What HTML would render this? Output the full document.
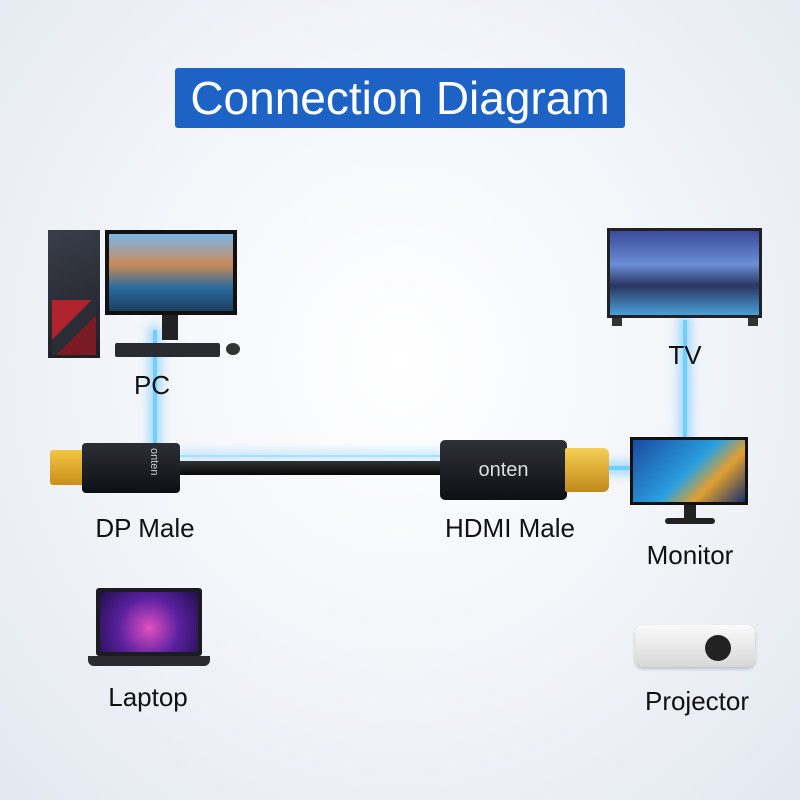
<!DOCTYPE html>
<html><head><meta charset="utf-8"><style>
html,body{margin:0;padding:0}
body{width:800px;height:800px;position:relative;overflow:hidden;font-family:"Liberation Sans",sans-serif;
background:radial-gradient(ellipse at 50% 45%,#ffffff 0%,#f4f6fa 45%,#e3e8f0 100%);}
.a{position:absolute}
.lbl{position:absolute;font-size:26px;color:#111;transform:translateX(-50%);white-space:nowrap}
.glow{position:absolute;background:#6fd0ff;box-shadow:0 0 10px 4px rgba(90,190,255,.55)}
</style></head><body>
<div class="a" style="left:175px;top:68px;width:450px;height:60px;background:#1d63c6;border-radius:3px;color:#fff;font-size:46px;text-align:center;line-height:60px">Connection Diagram</div>

<div class="glow" style="left:153px;top:330px;width:4px;height:115px"></div>
<div class="glow" style="left:683px;top:320px;width:4px;height:120px"></div>
<div class="glow" style="left:605px;top:466px;width:30px;height:4px"></div>
<div class="glow" style="left:180px;top:455px;width:260px;height:2px;opacity:.6"></div>

<div class="a" style="left:48px;top:230px;width:52px;height:128px;background:linear-gradient(160deg,#3a3e48,#1c1f26);"></div>
<div class="a" style="left:52px;top:300px;width:44px;height:55px;background:linear-gradient(135deg,#b0222c 0 40%,#2a2d36 40% 60%,#7a1a22 60%)"></div>
<div class="a" style="left:105px;top:230px;width:132px;height:85px;background:#111;"></div>
<div class="a" style="left:109px;top:234px;width:124px;height:77px;background:linear-gradient(180deg,#7ab6e8 0%,#c98a5a 40%,#2a6aa0 70%,#1c3e5c 100%)"></div>
<div class="a" style="left:162px;top:315px;width:16px;height:25px;background:#222"></div>
<div class="a" style="left:115px;top:343px;width:105px;height:14px;background:#2a2c32;border-radius:2px"></div>
<div class="a" style="left:226px;top:343px;width:14px;height:12px;background:#333;border-radius:50%"></div>
<div class="lbl" style="left:152px;top:370px">PC</div>

<div class="a" style="left:607px;top:228px;width:155px;height:90px;background:#222"></div>
<div class="a" style="left:610px;top:231px;width:149px;height:84px;background:linear-gradient(180deg,#3c4a9a 0%,#6a8fd6 40%,#2a3560 65%,#4aa0d8 100%)"></div>
<div class="a" style="left:612px;top:318px;width:10px;height:8px;background:#333"></div>
<div class="a" style="left:748px;top:318px;width:10px;height:8px;background:#333"></div>
<div class="lbl" style="left:685px;top:340px">TV</div>

<div class="a" style="left:50px;top:450px;width:34px;height:35px;background:linear-gradient(180deg,#f3c545,#c8901a);border-radius:3px"></div>
<div class="a" style="left:82px;top:443px;width:98px;height:50px;background:linear-gradient(180deg,#2c2f36,#0d0f13);border-radius:4px"></div>
<div class="a" style="left:140px;top:448px;width:28px;height:40px;color:#ccc;font-size:11px;writing-mode:vertical-rl;line-height:28px">onten</div>
<div class="a" style="left:180px;top:461px;width:262px;height:14px;background:linear-gradient(180deg,#333,#080808);"></div>
<div class="a" style="left:440px;top:440px;width:127px;height:60px;background:linear-gradient(180deg,#2e3138,#0e1014);border-radius:5px;color:#ddd;font-size:20px;text-align:center;line-height:60px">onten</div>
<div class="a" style="left:565px;top:448px;width:44px;height:44px;background:linear-gradient(180deg,#f5cf55,#c08a18);border-radius:2px 6px 6px 2px"></div>
<div class="lbl" style="left:145px;top:513px">DP Male</div>
<div class="lbl" style="left:510px;top:513px">HDMI Male</div>

<div class="a" style="left:630px;top:437px;width:118px;height:68px;background:#111"></div>
<div class="a" style="left:633px;top:440px;width:112px;height:62px;background:linear-gradient(135deg,#1a4aa0,#2aa0e0 50%,#e0a030 70%,#1a3070)"></div>
<div class="a" style="left:684px;top:505px;width:12px;height:14px;background:#222"></div>
<div class="a" style="left:665px;top:518px;width:50px;height:6px;background:#222;border-radius:3px"></div>
<div class="lbl" style="left:690px;top:540px">Monitor</div>

<div class="a" style="left:96px;top:588px;width:106px;height:68px;background:#1b1b22;border-radius:3px"></div>
<div class="a" style="left:100px;top:592px;width:98px;height:60px;background:radial-gradient(circle at 50% 60%,#e050c0,#5a20a0 50%,#20104a)"></div>
<div class="a" style="left:88px;top:656px;width:122px;height:10px;background:#2a2a30;border-radius:0 0 6px 6px"></div>
<div class="lbl" style="left:148px;top:682px">Laptop</div>

<div class="a" style="left:635px;top:625px;width:120px;height:42px;background:linear-gradient(180deg,#fafafa,#d8d8d8);border-radius:8px;box-shadow:0 2px 3px rgba(0,0,0,.2)"></div>
<div class="a" style="left:705px;top:635px;width:26px;height:26px;background:#222;border-radius:50%"></div>
<div class="lbl" style="left:697px;top:686px">Projector</div>
</body></html>
